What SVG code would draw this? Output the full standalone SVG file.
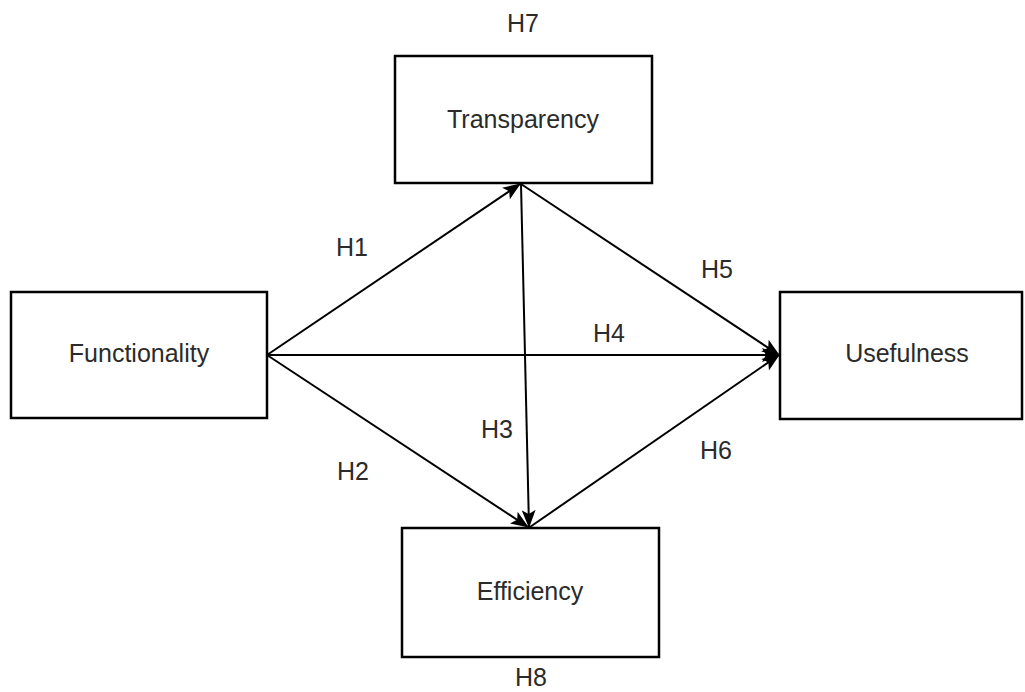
<svg xmlns="http://www.w3.org/2000/svg" width="1025" height="692" viewBox="0 0 1025 692">
  <style>
    .box { fill: #ffffff; stroke: #000000; stroke-width: 2.5; }
    .lbl { font-family: "Liberation Sans", Arial, sans-serif; font-size: 25px; fill: #2b2b2b; text-anchor: middle; }
    .edge { stroke: #000000; stroke-width: 2; fill: none; marker-end: url(#arrow); }
  </style>
  <defs>
    <marker id="arrow" markerUnits="userSpaceOnUse" markerWidth="18" markerHeight="14" viewBox="0 0 18 14" refX="17" refY="7" orient="auto">
      <path d="M0,0 L18,7 L0,14 L4,7 Z" fill="#000000"/>
    </marker>
  </defs>

  <rect width="1025" height="692" fill="#ffffff"/>

  <!-- connectors -->
  <g id="connectors">
    <line class="edge" x1="267" y1="355" x2="520" y2="184"/>
    <line class="edge" x1="267" y1="355" x2="779" y2="355"/>
    <line class="edge" x1="267" y1="355" x2="528" y2="527"/>
    <line class="edge" x1="521" y1="184" x2="779" y2="355"/>
    <line class="edge" x1="521" y1="184" x2="529" y2="527"/>
    <line class="edge" x1="530" y1="527" x2="779" y2="355"/>
  </g>

  <!-- edge labels -->
  <g id="edge-labels">
    <text class="lbl" x="352" y="256">H1</text>
    <text class="lbl" x="353" y="480">H2</text>
    <text class="lbl" x="497" y="438">H3</text>
    <text class="lbl" x="609" y="342">H4</text>
    <text class="lbl" x="717" y="278">H5</text>
    <text class="lbl" x="716" y="459">H6</text>
    <text class="lbl" x="523" y="32">H7</text>
    <text class="lbl" x="531" y="686">H8</text>
  </g>

  <!-- nodes -->
  <g id="node-transparency">
    <rect class="box" x="395" y="56" width="257" height="127"/>
    <text class="lbl" x="523" y="128">Transparency</text>
  </g>
  <g id="node-functionality">
    <rect class="box" x="11" y="292" width="256" height="126"/>
    <text class="lbl" x="139" y="362">Functionality</text>
  </g>
  <g id="node-usefulness">
    <rect class="box" x="780" y="292" width="242" height="127"/>
    <text class="lbl" x="907" y="362">Usefulness</text>
  </g>
  <g id="node-efficiency">
    <rect class="box" x="402" y="528" width="257" height="129"/>
    <text class="lbl" x="530" y="600">Efficiency</text>
  </g>
</svg>
